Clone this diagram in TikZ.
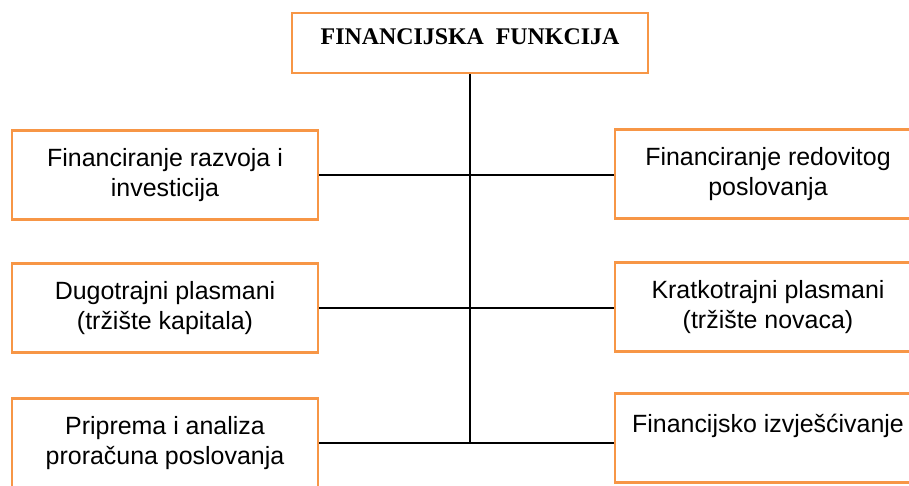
\documentclass[tikz,border=0pt]{standalone}
\usepackage{fontspec}
\setmainfont{Liberation Sans}
\newfontfamily\titlefont{Liberation Serif}
\definecolor{boxorange}{RGB}{247,150,70}

\begin{document}
\begin{tikzpicture}[x=0.02cm,y=-0.02cm]

\tikzset{
  box/.style={draw=boxorange, line width=1.2pt, minimum width=6.12cm, minimum height=1.78cm,
    align=center, inner sep=0pt, font=\fontsize{14.2}{17}\selectfont},
  titlebox/.style={draw=boxorange, line width=1.2pt, minimum width=7.12cm, minimum height=1.2cm,
    inner sep=0pt, text height=0.34cm, text depth=0.26cm, font=\titlefont\bfseries\fontsize{13.6}{17}\selectfont},
  link/.style={line width=1.4pt}
}

\useasboundingbox (0,0) rectangle (909,486);
\clip (0,0) rectangle (909,486);

% Top box
\node[titlebox] (fin) at (470,43) {FINANCIJSKA~~FUNKCIJA};

% Left column
\node[box] (razvoj) at (165,175) {Financiranje razvoja i\\investicija};
\node[box] (dugo) at (165,308) {Dugotrajni plasmani\\(tržište kapitala)};
\node[box] (proracun) at (165,443) {Priprema i analiza\\proračuna poslovanja};

% Right column
\node[box] (redovito) at (768,174) {Financiranje redovitog\\poslovanja};
\node[box] (kratko) at (768,307) {Kratkotrajni plasmani\\(tržište novaca)};
\node[box] (izvjesce) at (768,438) {Financijsko izvješćivanje\\\mbox{}};

% Connectors
\draw[link] (fin.south) -- (fin.south |- proracun.east);
\draw[link] (razvoj.east) -- (razvoj.east -| redovito.west);
\draw[link] (dugo.east) -- (dugo.east -| kratko.west);
\draw[link] (proracun.east) -- (proracun.east -| izvjesce.west);

\end{tikzpicture}
\end{document}
